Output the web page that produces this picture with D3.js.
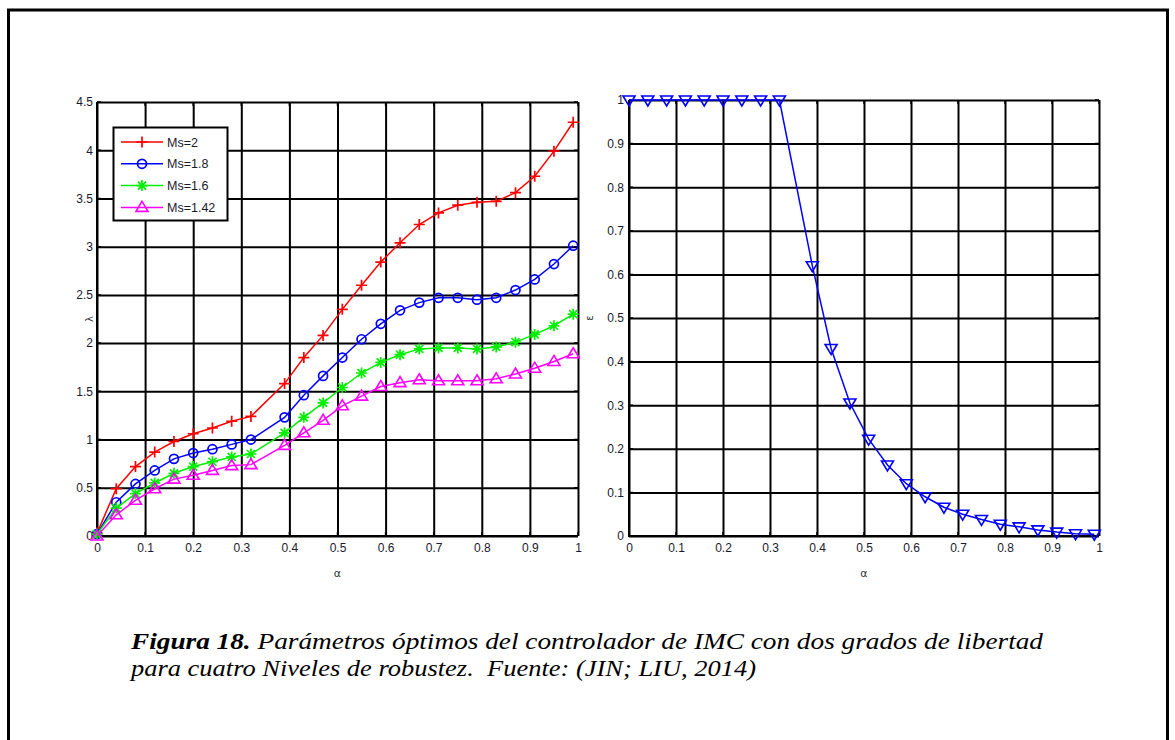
<!DOCTYPE html>
<html>
<head>
<meta charset="utf-8">
<script src="https://cdn.jsdelivr.net/npm/d3@7"></script>
<style>
  html, body { margin: 0; padding: 0; background: #fff; }
  svg { display: block; }
  .tick text { font-family: "Liberation Sans", Arial, sans-serif; font-size: 12px; fill: #1a1a2e; }
</style>
</head>
<body>
<svg id="fig" width="1175" height="740"></svg>
<script>
// alpha grid (both panels share it)
var alpha = [0, 0.04, 0.08, 0.12, 0.16, 0.2, 0.24, 0.28, 0.32, 0.39, 0.43, 0.47, 0.51,
             0.55, 0.59, 0.63, 0.67, 0.71, 0.75, 0.79, 0.83, 0.87, 0.91, 0.95, 0.99];

// lambda for each robustness level (left panel)
var ms2   = [0.03, 0.49, 0.72, 0.87, 0.98, 1.06, 1.12, 1.19, 1.24, 1.58, 1.85, 2.08, 2.35,
             2.60, 2.84, 3.04, 3.23, 3.35, 3.43, 3.46, 3.47, 3.56, 3.73, 3.99, 4.29];
var ms18  = [0.02, 0.35, 0.54, 0.68, 0.80, 0.86, 0.90, 0.95, 1.00, 1.23, 1.46, 1.66, 1.85,
             2.04, 2.20, 2.34, 2.42, 2.47, 2.47, 2.45, 2.47, 2.55, 2.66, 2.82, 3.01];
var ms16  = [0.02, 0.29, 0.44, 0.55, 0.65, 0.72, 0.77, 0.82, 0.85, 1.07, 1.23, 1.38, 1.54,
             1.69, 1.80, 1.88, 1.94, 1.95, 1.95, 1.94, 1.96, 2.01, 2.09, 2.18, 2.30];
var ms142 = [0.00, 0.22, 0.37, 0.49, 0.59, 0.63, 0.68, 0.73, 0.74, 0.94, 1.07, 1.20, 1.35,
             1.45, 1.55, 1.59, 1.62, 1.61, 1.61, 1.61, 1.63, 1.68, 1.74, 1.81, 1.89];

// epsilon (right panel)
var eps = [1, 1, 1, 1, 1, 1, 1, 1, 1, 0.62, 0.43, 0.305, 0.222, 0.163, 0.120, 0.090, 0.066,
           0.050, 0.038, 0.027, 0.021, 0.014, 0.009, 0.005, 0.004];

var xTicks = [0, 0.1, 0.2, 0.3, 0.4, 0.5, 0.6, 0.7, 0.8, 0.9, 1];
var yTicksL = [0, 0.5, 1, 1.5, 2, 2.5, 3, 3.5, 4, 4.5];
var yTicksR = [0, 0.1, 0.2, 0.3, 0.4, 0.5, 0.6, 0.7, 0.8, 0.9, 1];

var seriesNames = ['Ms=2', 'Ms=1.8', 'Ms=1.6', 'Ms=1.42'];
var seriesColors = ['#ff0000', '#0000ff', '#00ee00', '#ff00ff'];
var seriesMarkers = ['plus', 'circle', 'star', 'triUp'];
var seriesData = [ms2, ms18, ms16, ms142];

var svg = d3.select('#fig');

// outer frame (bottom edge runs off the page)
svg.append('path')
    .attr('d', 'M8.5,770 L8.5,10 L1167.5,10 L1167.5,770')
    .attr('fill', 'none').attr('stroke', '#000').attr('stroke-width', 3);

function fmt(d) { return d === 0 ? '0' : String(+d.toFixed(1)); }

function marker(g, kind, color, cx, cy) {
    var s = 5.5;
    if (kind === 'plus') {
        g.append('path').attr('d', 'M' + (cx - s) + ',' + cy + 'H' + (cx + s) + 'M' + cx + ',' + (cy - s) + 'V' + (cy + s))
            .attr('stroke', color).attr('stroke-width', 1.7).attr('fill', 'none');
    } else if (kind === 'circle') {
        g.append('circle').attr('cx', cx).attr('cy', cy).attr('r', 4.5)
            .attr('stroke', color).attr('stroke-width', 1.7).attr('fill', 'none');
    } else if (kind === 'star') {
        var d = 'M' + (cx - s) + ',' + cy + 'H' + (cx + s) + 'M' + cx + ',' + (cy - s) + 'V' + (cy + s) +
            'M' + (cx - 4) + ',' + (cy - 4) + 'L' + (cx + 4) + ',' + (cy + 4) +
            'M' + (cx - 4) + ',' + (cy + 4) + 'L' + (cx + 4) + ',' + (cy - 4);
        g.append('path').attr('d', d).attr('stroke', color).attr('stroke-width', 1.7).attr('fill', 'none');
    } else if (kind === 'triUp') {
        g.append('path').attr('d', 'M' + cx + ',' + (cy - 6) + 'L' + (cx + 6) + ',' + (cy + 4) + 'L' + (cx - 6) + ',' + (cy + 4) + 'Z')
            .attr('stroke', color).attr('stroke-width', 1.6).attr('fill', 'none');
    } else if (kind === 'triDown') {
        g.append('path').attr('d', 'M' + cx + ',' + (cy + 6) + 'L' + (cx + 6) + ',' + (cy - 4) + 'L' + (cx - 6) + ',' + (cy - 4) + 'Z')
            .attr('stroke', color).attr('stroke-width', 1.6).attr('fill', 'none');
    }
}

function panel(opts) {
    var x = d3.scaleLinear().domain([0, 1]).range([opts.x0, opts.x1]);
    var y = d3.scaleLinear().domain(opts.yDomain).range([opts.y0, opts.y1]);
    var g = svg.append('g');
    var h = opts.y0 - opts.y1, w = opts.x1 - opts.x0;

    // grid + tick labels via axes
    g.append('g').attr('transform', 'translate(0,' + opts.y0 + ')')
        .call(d3.axisBottom(x).tickValues(xTicks).tickSize(-h).tickPadding(7).tickFormat(fmt))
        .call(function (a) { a.select('.domain').remove(); });
    g.append('g').attr('transform', 'translate(' + opts.x0 + ',0)')
        .call(d3.axisLeft(y).tickValues(opts.yTicks).tickSize(-w).tickPadding(opts.yPad).tickFormat(fmt))
        .call(function (a) { a.select('.domain').remove(); });
    g.selectAll('.tick line').attr('stroke', '#000').attr('stroke-width', 2);

    // axis box left/bottom
    g.append('path')
        .attr('d', 'M' + opts.x0 + ',' + opts.y1 + 'V' + opts.y0 + 'H' + opts.x1)
        .attr('fill', 'none').attr('stroke', '#000').attr('stroke-width', 2);

    // small inner ticks (MATLAB style)
    xTicks.forEach(function (t) {
        g.append('path').attr('d', 'M' + x(t) + ',' + opts.y1 + 'v4M' + x(t) + ',' + opts.y0 + 'v-4')
            .attr('stroke', '#000').attr('stroke-width', 1.5);
    });
    opts.yTicks.forEach(function (t) {
        g.append('path').attr('d', 'M' + opts.x0 + ',' + y(t) + 'h4M' + opts.x1 + ',' + y(t) + 'h-4')
            .attr('stroke', '#000').attr('stroke-width', 1.5);
    });

    // axis labels
    g.append('text').attr('x', (opts.x0 + opts.x1) / 2).attr('y', opts.y0 + 41)
        .attr('text-anchor', 'middle').attr('font-family', 'DejaVu Sans, sans-serif')
        .attr('font-size', 11).attr('fill', '#333').text('α');
    g.append('text').attr('transform', 'translate(' + opts.ylx + ',' + ((opts.y0 + opts.y1) / 2) + ') rotate(-90)')
        .attr('text-anchor', 'middle').attr('font-family', 'DejaVu Sans, sans-serif')
        .attr('font-size', 10).attr('fill', '#333').text(opts.ylabel);

    return { g: g, x: x, y: y };
}

// ---- left panel: lambda ----
var L = panel({ x0: 97, x1: 578, y0: 536, y1: 102, yDomain: [0, 4.5], yTicks: yTicksL, yPad: 4, ylabel: 'λ', ylx: 93 });

seriesData.forEach(function (vals, i) {
    var pts = alpha.map(function (a, k) { return [a, vals[k]]; });
    var line = d3.line().x(function (d) { return L.x(d[0]); }).y(function (d) { return L.y(d[1]); });
    L.g.append('path').datum(pts).attr('d', line)
        .attr('fill', 'none').attr('stroke', seriesColors[i]).attr('stroke-width', 1.5);
    var mg = L.g.append('g');
    pts.forEach(function (p) { marker(mg, seriesMarkers[i], seriesColors[i], L.x(p[0]), L.y(p[1])); });
});

// legend
var lg = svg.append('g');
lg.append('rect').attr('x', 113.5).attr('y', 127.5).attr('width', 114).attr('height', 93)
    .attr('fill', '#fff').attr('stroke', '#000').attr('stroke-width', 2);
seriesNames.forEach(function (name, i) {
    var yy = 142 + i * 21.8;
    lg.append('line').attr('x1', 121).attr('x2', 163).attr('y1', yy).attr('y2', yy)
        .attr('stroke', seriesColors[i]).attr('stroke-width', 1.5);
    marker(lg, seriesMarkers[i], seriesColors[i], 142, yy);
    lg.append('text').attr('x', 167).attr('y', yy + 4.5)
        .attr('font-family', 'Liberation Sans, Arial, sans-serif').attr('font-size', 12.5)
        .attr('fill', '#1a1a2e').text(name);
});

// ---- right panel: epsilon ----
var R = panel({ x0: 629, x1: 1099, y0: 536, y1: 100, yDomain: [0, 1], yTicks: yTicksR, yPad: 5, ylabel: 'ε', ylx: 593 });
var rpts = alpha.map(function (a, k) { return [a, eps[k]]; });
R.g.append('path').datum(rpts)
    .attr('d', d3.line().x(function (d) { return R.x(d[0]); }).y(function (d) { return R.y(d[1]); }))
    .attr('fill', 'none').attr('stroke', '#0000ff').attr('stroke-width', 1.5);
var rg = R.g.append('g');
rpts.forEach(function (p) { marker(rg, 'triDown', '#0000ff', R.x(p[0]), R.y(p[1])); });

// ---- caption ----
var serif = '"Liberation Serif", serif';
var cap = svg.append('g');
var t1 = cap.append('text').attr('x', 131).attr('y', 649)
    .style('font-family', serif).style('font-style', 'italic').style('font-size', '24px')
    .attr('textLength', 912).attr('lengthAdjust', 'spacingAndGlyphs');
t1.append('tspan').style('font-weight', 'bold').text('Figura 18.');
t1.append('tspan').text(' Parámetros óptimos del controlador de IMC con dos grados de libertad');
cap.append('text').attr('x', 131).attr('y', 676)
    .style('font-family', serif).style('font-style', 'italic').style('font-size', '24px')
    .style('white-space', 'pre')
    .attr('textLength', 625).attr('lengthAdjust', 'spacingAndGlyphs')
    .text('para cuatro Niveles de robustez.  Fuente: (JIN; LIU, 2014)');
</script>
</body>
</html>
